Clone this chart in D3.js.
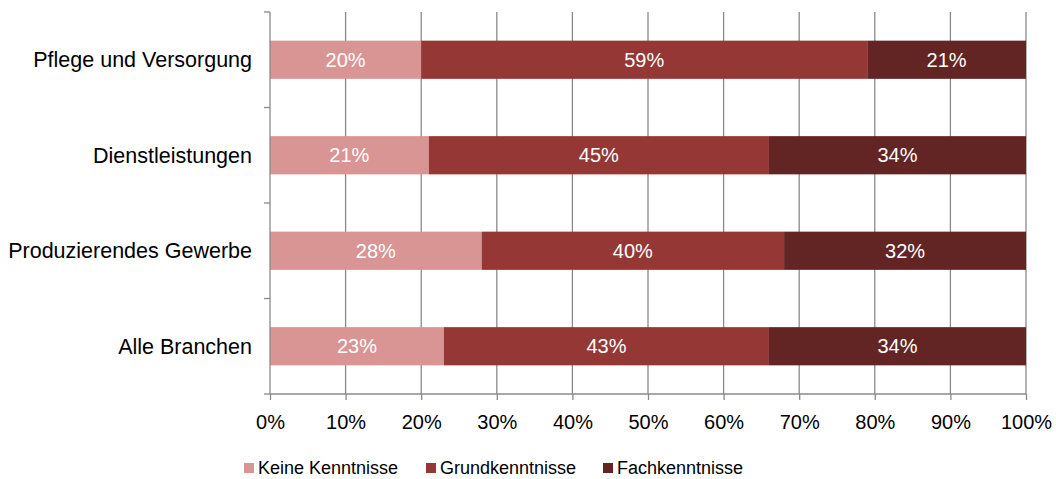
<!DOCTYPE html>
<html>
<head>
<meta charset="utf-8">
<script src="https://cdn.jsdelivr.net/npm/d3@7"></script>
<style>
  body { margin: 0; background: #fff; }
  text { font-family: "Liberation Sans", Arial, sans-serif; }
</style>
</head>
<body>
<div id="chart"></div>
<script>
// data
let categories = ["Pflege und Versorgung", "Dienstleistungen", "Produzierendes Gewerbe", "Alle Branchen"];
let seriesNames = ["Keine Kenntnisse", "Grundkenntnisse", "Fachkenntnisse"];
let keine = [20, 21, 28, 23];
let grund = [59, 45, 40, 43];
let fach = [21, 34, 32, 34];
let tickValues = [0, 10, 20, 30, 40, 50, 60, 70, 80, 90, 100];
let colors = ["#D99594", "#953735", "#632523"];

let width = 1056, height = 479;
let margin = {left: 270, right: 30, top: 12, bottom: 85};

let svg = d3.select("#chart")
            .append("svg")
            .attr("width", width)
            .attr("height", height);

let x = d3.scaleLinear().domain([0, 100]).range([margin.left, width - margin.right]);
let y = d3.scaleBand().domain(categories).range([margin.top, height - margin.bottom]).paddingInner(0.6).paddingOuter(0.3);

let table = categories.map((c, i) => ({cat: c, Keine: keine[i], Grund: grund[i], Fach: fach[i]}));
let stack = d3.stack().keys(["Keine", "Grund", "Fach"])(table);

let plotBottom = height - margin.bottom;

// gridlines
svg.append("g")
   .selectAll("line")
   .data(tickValues.slice(1))
   .join("line")
   .attr("x1", d => x(d)).attr("x2", d => x(d))
   .attr("y1", margin.top).attr("y2", plotBottom)
   .attr("stroke", "#8a8a8a")
   .attr("stroke-width", 1.3);

// bars
let layers = svg.append("g")
   .selectAll("g")
   .data(stack)
   .join("g")
   .attr("fill", (d, i) => colors[i]);

layers.selectAll("rect")
   .data(d => d)
   .join("rect")
   .attr("x", d => x(d[0]))
   .attr("width", d => x(d[1]) - x(d[0]))
   .attr("y", d => y(d.data.cat))
   .attr("height", y.bandwidth());

layers.selectAll("text")
   .data(d => d)
   .join("text")
   .attr("x", d => (x(d[0]) + x(d[1])) / 2)
   .attr("y", d => y(d.data.cat) + y.bandwidth() / 2)
   .attr("dy", "0.36em")
   .attr("text-anchor", "middle")
   .attr("fill", "#fff")
   .attr("font-size", 20)
   .text(d => (d[1] - d[0]) + "%");

// x axis
let xAxis = svg.append("g")
   .attr("transform", `translate(0,${plotBottom})`)
   .call(d3.axisBottom(x).tickValues(tickValues).tickFormat(d => d + "%").tickSize(6).tickPadding(15));
xAxis.select(".domain").attr("stroke", "#8a8a8a").attr("stroke-width", 1.3).attr("d", `M${x(0)},0H${x(100)}`);
xAxis.selectAll(".tick line").attr("stroke", "#8a8a8a").attr("stroke-width", 1.3);
xAxis.selectAll(".tick text").attr("font-size", 20).attr("fill", "#000").attr("font-family", "Liberation Sans, Arial, sans-serif");

// y axis
let yAxisG = svg.append("g").attr("transform", `translate(${margin.left},0)`);
yAxisG.append("line")
   .attr("x1", 0).attr("x2", 0)
   .attr("y1", margin.top).attr("y2", plotBottom)
   .attr("stroke", "#8a8a8a").attr("stroke-width", 1.3);
let boundaries = d3.range(categories.length + 1).map(i => margin.top + i * (plotBottom - margin.top) / categories.length);
yAxisG.selectAll(".ytick")
   .data(boundaries)
   .join("line")
   .attr("x1", -6).attr("x2", 0)
   .attr("y1", d => d).attr("y2", d => d)
   .attr("stroke", "#8a8a8a").attr("stroke-width", 1.3);
yAxisG.selectAll(".ylab")
   .data(categories)
   .join("text")
   .attr("x", -18)
   .attr("y", d => y(d) + y.bandwidth() / 2)
   .attr("dy", "0.36em")
   .attr("text-anchor", "end")
   .attr("font-size", 21.5)
   .attr("fill", "#000")
   .text(d => d);

// legend
let legendX = [244, 426, 603];
let legend = svg.append("g")
   .selectAll("g")
   .data(seriesNames)
   .join("g")
   .attr("transform", (d, i) => `translate(${legendX[i]},468)`);
legend.append("rect")
   .attr("x", 0).attr("y", -5)
   .attr("width", 10).attr("height", 10)
   .attr("fill", (d, i) => colors[i]);
legend.append("text")
   .attr("x", 14).attr("y", 0)
   .attr("dy", "0.36em")
   .attr("font-size", 18)
   .attr("fill", "#000")
   .text(d => d);
</script>
</body>
</html>
